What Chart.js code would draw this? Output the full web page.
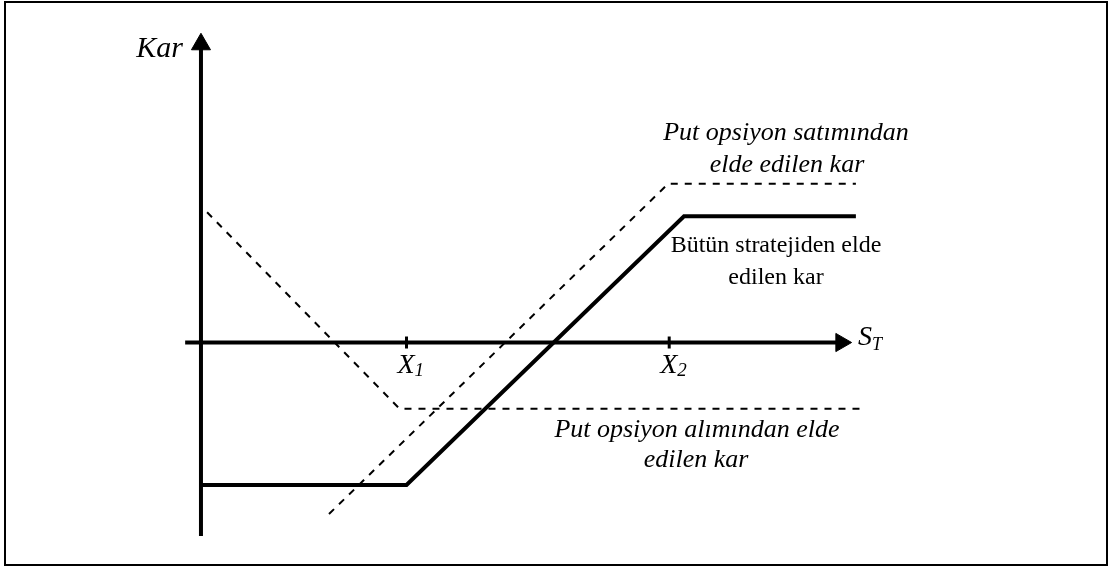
<!DOCTYPE html>
<html><head><meta charset="utf-8">
<script src="https://cdn.jsdelivr.net/npm/chart.js@4"></script>
<style>html,body{margin:0;padding:0;background:#fff;}#wrap{width:1115px;height:570px;position:relative;}</style>
</head><body>
<div id="wrap"><canvas id="c" width="1115" height="570"></canvas></div>
<script>
// ---- Data (x: underlying price S_T, y: profit "Kar") ----
const strikes      = [40.3, 91.8];
const strikeNames  = ['X', 'X'];
const strikeSubs   = ['1', '2'];

const longPutX  = [1.2, 38.9, 130.2];     // Put opsiyon alımından elde edilen kar
const longPutY  = [25.6, -13.0, -13.0];
const shortPutX = [25.1, 91.6, 128.4];    // Put opsiyon satımından elde edilen kar
const shortPutY = [-33.7, 31.2, 31.2];
const stratX    = [0, 40.3, 94.7, 128.4]; // Bütün stratejiden elde edilen kar
const stratY    = [-28.0, -28.0, 24.8, 24.8];

const axisXRange = [-3.1, 125.5];
const axisYRange = [-38.0, 58.6];

const xTitle = ['S', 'T'];
const yTitle = 'Kar';
const noteShort = ['Put opsiyon satımından', 'elde edilen kar'];
const noteStrat = ['Bütün stratejiden elde', 'edilen kar'];
const noteLong  = ['Put opsiyon alımından elde', 'edilen kar'];

// ---- build ----
const pts = (xs, ys) => xs.map((x, i) => ({x, y: ys[i]}));
const SERIF = "'Liberation Serif','Times New Roman',serif";

const notesPlugin = {
  id: 'notes',
  beforeDraw(chart) {
    const c = chart.ctx;
    c.save(); c.fillStyle = '#fff'; c.fillRect(0, 0, chart.width, chart.height); c.restore();
  },
  afterDraw(chart) {
    const c = chart.ctx, xs = chart.scales.x, ys = chart.scales.y;
    const px = v => xs.getPixelForValue(v), py = v => ys.getPixelForValue(v);
    c.save();
    // frame
    c.strokeStyle = '#000'; c.lineWidth = 2;
    c.strokeRect(5, 2, 1102, 563);
    c.fillStyle = '#000';
    c.textBaseline = 'alphabetic';
    // y title
    c.font = 'italic 30px ' + SERIF; c.textAlign = 'right';
    c.fillText(yTitle, px(0) - 18, 57);
    // x title with subscript
    c.textAlign = 'left';
    const sx = px(axisXRange[1]) + 17, sy = py(0) + 2;
    c.font = 'italic 28px ' + SERIF; c.fillText(xTitle[0], sx, sy);
    const sw = c.measureText(xTitle[0]).width;
    c.font = 'italic 18px ' + SERIF; c.fillText(xTitle[1], sx + sw, sy + 5);
    // strike labels
    strikes.forEach((s, i) => {
      const lx = px(s) - 9, ly = py(0) + 30;
      c.font = 'italic 28px ' + SERIF; c.fillText(strikeNames[i], lx, ly);
      const w = c.measureText(strikeNames[i]).width;
      c.font = 'italic 19px ' + SERIF; c.fillText(strikeSubs[i], lx + w, ly + 3);
    });
    // notes
    c.textAlign = 'center';
    c.font = 'italic 26px ' + SERIF;
    c.fillText(noteShort[0], 786, 140);
    c.fillText(noteShort[1], 787, 172);
    c.fillText(noteLong[0], 697, 437);
    c.fillText(noteLong[1], 696, 467);
    c.font = '24px ' + SERIF;
    c.fillText(noteStrat[0], 776, 252);
    c.fillText(noteStrat[1], 776, 284);
    c.restore();
  }
};

new Chart(document.getElementById('c'), {
  type: 'line',
  data: {
    datasets: [
      { label: 'strateji', data: pts(stratX, stratY), borderColor: '#000', borderWidth: 4, pointRadius: 0, tension: 0, borderJoinStyle: 'miter', borderCapStyle: 'butt' },
      { label: 'satım', data: pts(shortPutX, shortPutY), borderColor: '#000', borderWidth: 2, borderDash: [7, 7], pointRadius: 0, tension: 0 },
      { label: 'alım', data: pts(longPutX, longPutY), borderColor: '#000', borderWidth: 2, borderDash: [7, 7], pointRadius: 0, tension: 0 },
      { label: 'ticks', data: strikes.map(s => ({x: s, y: 0})), showLine: false, pointStyle: 'line', pointRotation: 90, pointRadius: 6, pointBorderWidth: 3, pointBorderColor: '#000', borderColor: '#000' },
      { label: 'xaxis', data: [{x: axisXRange[0], y: 0}, {x: axisXRange[1], y: 0}], borderColor: '#000', borderWidth: 4, pointStyle: 'triangle', pointRotation: 90, pointRadius: [0, 10.5], pointBackgroundColor: '#000', pointBorderColor: '#000', pointBorderWidth: 1 },
      { label: 'yaxis', data: [{x: 0, y: axisYRange[0]}, {x: 0, y: axisYRange[1]}], borderColor: '#000', borderWidth: 4, pointStyle: 'triangle', pointRotation: 0, pointRadius: [0, 11], pointBackgroundColor: '#000', pointBorderColor: '#000', pointBorderWidth: 1 }
    ]
  },
  options: {
    responsive: false, devicePixelRatio: 1, animation: false, events: [],
    layout: { padding: 0, autoPadding: false },
    plugins: { legend: { display: false }, tooltip: { enabled: false } },
    scales: {
      x: { type: 'linear', display: false, min: -39.4, max: 179.2 },
      y: { type: 'linear', display: false, min: -44.7, max: 67.3 }
    }
  },
  plugins: [notesPlugin]
});
</script>
</body></html>
